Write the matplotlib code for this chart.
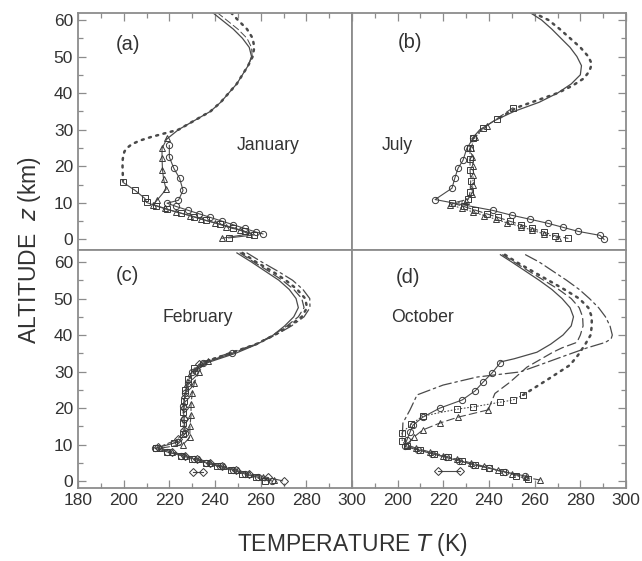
import matplotlib
matplotlib.use("Agg")
import matplotlib.pyplot as plt
from matplotlib.ticker import MultipleLocator

plt.rcParams['font.family'] = ['Liberation Sans', 'DejaVu Sans']

# ---- (a) January ----
a_z_solid = [62, 60, 57.5, 55, 52.5, 50, 47.5, 45, 42.5, 40, 37.5, 35, 32.5, 30, 27.5]
a_t_solid = [239, 243, 248, 252, 255, 256, 254.5, 252, 249.5, 246, 242.5, 238, 231, 224, 219]
a_z_dash = [62, 60, 57.5, 55, 52.5, 50, 47.5]
a_t_dash = [241, 245, 250, 254, 256, 256.3, 254.5]
a_z_dot = [62, 60, 57.5, 55, 52.5, 50, 47.5, 45, 42.5, 40, 37.5, 35, 32.5, 30, 29, 28, 27, 26, 25, 24, 22, 20, 18, 16]
a_t_dot = [247, 250, 254, 256.5, 257.2, 256.5, 254.5, 252, 249.5, 246, 242.5, 238, 231, 224, 218, 212, 207, 203.5, 201.5, 200.3, 199.6, 199.5, 199.6, 199.7]
a_z_circ = [25.7, 22.5, 19.4, 16.7, 13.4, 10.7, 9.9, 9, 8, 7, 6, 5, 4, 3, 2, 1.5]
a_t_circ = [220, 220, 222, 224.5, 226, 224, 219, 223, 228, 233, 238, 243, 248, 253, 258, 261]
a_z_tri = [27.6, 24.9, 22.2, 19.1, 16.4, 13.7, 10.7, 9.5, 8.5, 7.5, 6.5, 5.5, 4.5, 3.5, 2.5, 1.5, 0.3]
a_t_tri = [219, 216.8, 216.8, 217, 217.5, 218.6, 214.6, 213, 218, 223, 229, 234, 240, 245, 251, 255, 243]
a_z_sq = [15.6, 13.4, 11.2, 10.1, 9.2, 8.2, 7.2, 6.2, 5.2, 4.2, 3.2, 2.2, 1.2, 0.4]
a_t_sq = [199.7, 205, 209.3, 210, 214, 219, 225, 231, 236, 242, 248, 253, 257, 246]

# ---- (b) July ----
b_z_solid = [62, 60, 57.5, 55, 52.5, 50, 47.5, 45, 42.5, 40, 37.5, 35, 32.5, 30, 27.5]
b_t_solid = [258, 263, 267.5, 271.5, 275.5, 278.5, 280.5, 280, 276, 270, 262, 251, 242.5, 236, 232.5]
b_z_dot = [62, 60, 57.5, 55, 52.5, 50, 48, 46, 44, 42, 40, 38, 36, 33]
b_t_dot = [259.3, 266, 271, 275.5, 280, 283.5, 285, 284, 281.5, 276.5, 270, 261, 252, 244]
b_z_circ = [27.6, 24.9, 21.6, 19.4, 16.7, 14, 10.9, 7.9, 6.6, 5.5, 4.4, 3.3, 2.2, 1.1, 0]
b_t_circ = [233, 230.3, 228.6, 226.4, 225, 223.8, 216.4, 241.8, 250, 258, 265.8, 272.4, 279, 288.6, 290.4]
b_z_sq = [36, 33, 30.4, 27.6, 24.9, 22, 19, 16, 13, 11, 9.9, 9, 8, 7, 6, 5, 4, 3, 2, 1, 0.3]
b_t_sq = [250.5, 243.5, 237.4, 233, 231.7, 231.7, 231.7, 232, 231.7, 231, 224, 229, 234, 239, 244, 249, 254, 259, 264, 269, 274.6]
b_z_tri = [31, 28, 25, 22.5, 20, 17.5, 15, 12.5, 10.5, 9.5, 8.5, 7.5, 6.5, 5.5, 4.5, 3.5, 2.5, 1.5, 0.5]
b_t_tri = [239, 234, 232, 232.5, 233, 233, 233, 232.5, 230, 223, 228, 233, 238, 243, 248, 254, 259, 264, 270]

# ---- (c) February ----
c_z_model = [62.5, 60, 57.5, 55, 52.5, 50, 47.5, 45, 42.5, 40, 37.5, 35, 32.5, 30]
c_t_solid = [249.6, 256, 262, 268, 272.5, 275.5, 276.5, 274.5, 270.5, 265.5, 258.5, 249, 237, 231]
c_t_dash = [251, 257, 263.5, 269.5, 274.5, 278, 279, 276.5, 271.5, 265.5, 258, 247.5, 236, 230.5]
c_t_dot = [252, 258, 265, 271, 276, 279.5, 280.3, 278, 272.5, 266, 258, 246.5, 235, 231]
c_t_dashdot = [254, 260.5, 267.5, 274, 278.5, 281.5, 281.6, 279, 273.5, 266.5, 258, 246, 234, 230]
c_z_circ = [35, 32.3, 30, 27, 24, 20.5, 17, 13.2, 10.7, 9, 8, 7, 6, 5, 4, 3, 2, 1, 0]
c_t_circ = [247.5, 234.8, 230, 228, 227, 226, 226.5, 227, 224, 213.7, 219, 225, 231, 236, 242, 248, 253, 259, 265]
c_z_tri = [33, 30, 27, 24, 21, 18, 15, 12, 10, 9, 8, 7, 6, 5, 4, 3, 2, 1, 0.3]
c_t_tri = [237, 233, 231, 230, 229.5, 229.5, 229, 229, 226, 216, 221, 227, 233, 238, 244, 250, 255, 261, 266]
c_z_sq = [31, 28, 25, 22, 19, 16, 13, 10.5, 9, 8, 7, 6, 5, 4, 3, 2, 1, 0]
c_t_sq = [231, 228, 227, 226.5, 226, 226, 226, 222, 214, 219, 225, 230, 236, 241, 247, 252, 258, 262]
c_z_dia = [32, 29, 26, 23, 20, 17, 14, 11.5, 9.2, 8, 7, 6, 5, 4, 3, 2, 1, 0]
c_t_dia = [233, 230, 228, 227, 226.5, 226.5, 226.5, 224, 215, 221, 227, 232, 238, 243, 249, 255, 263, 270]
c_z_dia2 = [2.5, 2.5]
c_t_dia2 = [230.4, 234.8]

# ---- (d) October ----
d_z_solid = [62, 60, 57.5, 55, 52.5, 50, 47.5, 45, 42.5, 40, 37.5, 35.3, 33.5, 32.6]
d_t_solid = [245, 250, 256, 262, 267.5, 272, 275.5, 277, 276, 272.4, 267, 261, 251, 244.8]
d_z_circ = [32.3, 29.6, 27.1, 24.7, 22.2, 20, 17.5, 15.3, 13.4, 11.2, 9.5, 8.5, 7.5, 6.5, 5.5, 4.5, 3.5, 2.5, 1.4]
d_t_circ = [244.8, 241.3, 237.4, 233.9, 228.2, 218.5, 211, 206.7, 205.4, 204, 203, 209, 215, 221, 227, 233, 240, 247, 255.8]
d_z_dot = [62, 60, 57.5, 55, 52.5, 50, 47.5, 45, 42.5, 40, 37.3, 34.5, 31.8, 27.7, 23.6]
d_t_dot = [247, 252, 259, 266, 273, 279.5, 283.5, 285, 285, 284.5, 282, 279, 275.5, 265.4, 255]
d_z_sq = [23.6, 22.2, 21.6, 20.3, 19.7, 17.8, 15.6, 13.2, 11, 9.5, 8.5, 7.5, 6.5, 5.5, 4.5, 3.5, 2.5, 1.5, 0.5]
d_t_sq = [255, 250.5, 244.8, 233, 226, 211, 206, 201.9, 202, 204, 210, 216, 222, 228, 234, 240, 246, 252, 257]
d_z_dash = [62, 60, 57.5, 55, 52.5, 50, 47.5, 45, 42.5, 40, 38, 36.5, 35.3, 31.2, 27.1, 24, 19.5]
d_t_dash = [246, 251, 257.5, 264, 270.5, 276, 279.5, 281, 281.2, 280, 278.5, 272, 268, 256.6, 249.2, 242.6, 239.6]
d_z_tri = [19.5, 17.5, 15.9, 14, 12, 10, 9, 8, 7, 6, 5, 4, 3, 2, 1, 0.3]
d_t_tri = [239.6, 226.4, 218.5, 211, 207, 204, 208, 214, 220, 226, 232, 238, 244, 250, 256, 262.3]
d_z_dashdot = [62, 60, 57.5, 55, 52.5, 50, 47.5, 45, 42.5, 40, 39, 38, 36.5, 34.5, 32, 29.9, 28.5, 26.3, 23.6, 19.5, 15.9, 12]
d_t_dashdot = [256, 262, 268, 274, 279.5, 284, 288, 291, 293, 294, 293.5, 291, 283, 274, 263, 253.6, 234.8, 219.9, 208.5, 205.4, 202.3, 202]
d_z_dia = [2.7, 2.7]
d_t_dia = [217.7, 227.3]

x_ticks = [180, 200, 220, 240, 260, 280, 300]
y_ticks = [0, 10, 20, 30, 40, 50, 60]

LINE = '#4a4a4a'
SPINE = '#8c8c8c'
TEXT = '#333333'
DOT = (0, (0.8, 2.2))
DASH = (0, (7, 3.5))
DASHDOT = (0, (10, 3, 2, 3))


def model(ax, t, z, ls, lw=0.9):
    ax.plot(t, z, color=LINE, lw=lw, ls=ls, dash_capstyle='round', zorder=2)


def obs(ax, t, z, marker, ls='-', ms=4.5):
    ax.plot(t, z, color=LINE, lw=0.8, ls=ls, marker=marker, ms=ms,
            mfc='none', mec='#3a3a3a', mew=0.7, dash_capstyle='round', zorder=3)


def setup(ax, ylim, left, bottom, top, right):
    ax.set_xlim(180, 300)
    ax.set_ylim(*ylim)
    ax.xaxis.set_major_locator(MultipleLocator(20))
    ax.xaxis.set_minor_locator(MultipleLocator(10))
    ax.yaxis.set_major_locator(MultipleLocator(10))
    ax.yaxis.set_minor_locator(MultipleLocator(5))
    ax.tick_params(which='both', direction='in', colors=SPINE, labelcolor=TEXT,
                   labelsize=12.5, left=left, bottom=bottom, top=top, right=right,
                   labelleft=left, labelbottom=bottom)
    ax.tick_params(which='major', length=6, width=0.9)
    ax.tick_params(which='minor', length=3.5, width=0.9)
    for s in ax.spines.values():
        s.set_color(SPINE)
        s.set_linewidth(1.3)


fig = plt.figure(figsize=(6.42, 5.61), dpi=100)
W, H = 642.0, 561.0
axA = fig.add_axes([78 / W, 1 - 250 / H, 274 / W, 237 / H])
axB = fig.add_axes([352 / W, 1 - 250 / H, 274 / W, 237 / H])
axC = fig.add_axes([78 / W, 1 - 488 / H, 274 / W, 238 / H])
axD = fig.add_axes([352 / W, 1 - 488 / H, 274 / W, 238 / H])

top_lim = (-2.9, 61.9)
bot_lim = (-1.9, 63.3)
setup(axA, top_lim, left=True, bottom=False, top=True, right=False)
setup(axB, top_lim, left=False, bottom=False, top=True, right=True)
setup(axC, bot_lim, left=True, bottom=True, top=False, right=False)
setup(axD, bot_lim, left=False, bottom=True, top=False, right=True)
axC.set_xticks(x_ticks)
axD.set_xticks(x_ticks)
axD.set_xticklabels([''] + [str(v) for v in x_ticks[1:]])
for ax in (axA, axC):
    ax.set_yticks(y_ticks)

# (a)
model(axA, a_t_solid, a_z_solid, '-')
model(axA, a_t_dash, a_z_dash, DASH, lw=0.7)
model(axA, a_t_dot, a_z_dot, DOT, lw=1.8)
obs(axA, a_t_circ, a_z_circ, 'o')
obs(axA, a_t_tri, a_z_tri, '^')
obs(axA, a_t_sq, a_z_sq, 's', ms=4)

# (b)
model(axB, b_t_solid, b_z_solid, '-')
model(axB, b_t_dot, b_z_dot, DOT, lw=1.8)
obs(axB, b_t_circ, b_z_circ, 'o')
obs(axB, b_t_sq, b_z_sq, 's', ls=DASH, ms=4)
obs(axB, b_t_tri, b_z_tri, '^', ls=DOT)

# (c)
model(axC, c_t_solid, c_z_model, '-')
model(axC, c_t_dash, c_z_model, DASH)
model(axC, c_t_dot, c_z_model, DOT, lw=1.8)
model(axC, c_t_dashdot, c_z_model, DASHDOT)
obs(axC, c_t_circ, c_z_circ, 'o')
obs(axC, c_t_tri, c_z_tri, '^', ls=DASH)
obs(axC, c_t_sq, c_z_sq, 's', ls=DOT, ms=4)
obs(axC, c_t_dia, c_z_dia, 'D', ls=DASHDOT, ms=4)
obs(axC, c_t_dia2, c_z_dia2, 'D', ms=4)

# (d)
model(axD, d_t_solid, d_z_solid, '-')
model(axD, d_t_dot, d_z_dot, DOT, lw=1.8)
model(axD, d_t_dash, d_z_dash, DASH)
model(axD, d_t_dashdot, d_z_dashdot, DASHDOT)
obs(axD, d_t_circ, d_z_circ, 'o')
obs(axD, d_t_sq, d_z_sq, 's', ls=DOT, ms=4)
obs(axD, d_t_tri, d_z_tri, '^', ls=DASH)
obs(axD, d_t_dia, d_z_dia, 'D', ms=4)

# panel letters and months
lab = dict(color=TEXT, ha='center', va='center')
axA.text(201.9, 53.2, '(a)', fontsize=14.5, **lab)
axA.text(263.2, 25.7, 'January', fontsize=12.7, **lab)
axB.text(205.4, 53.7, '(b)', fontsize=14.5, **lab)
axB.text(199.7, 25.7, 'July', fontsize=12.7, **lab)
axC.text(201.5, 56.4, '(c)', fontsize=14.5, **lab)
axC.text(232.6, 44.9, 'February', fontsize=12.7, **lab)
axD.text(204.5, 55.9, '(d)', fontsize=14.5, **lab)
axD.text(211, 44.9, 'October', fontsize=12.7, **lab)

fig.text(30 / W, 1 - 250 / H, r'ALTITUDE  $\it{z}$ (km)', rotation=90,
         fontsize=16.5, color=TEXT, ha='center', va='center')
fig.text(352 / W, 1 - 545 / H, r'TEMPERATURE $\it{T}$ (K)',
         fontsize=16.5, color=TEXT, ha='center', va='center')

fig.savefig('out.png', dpi=100)
